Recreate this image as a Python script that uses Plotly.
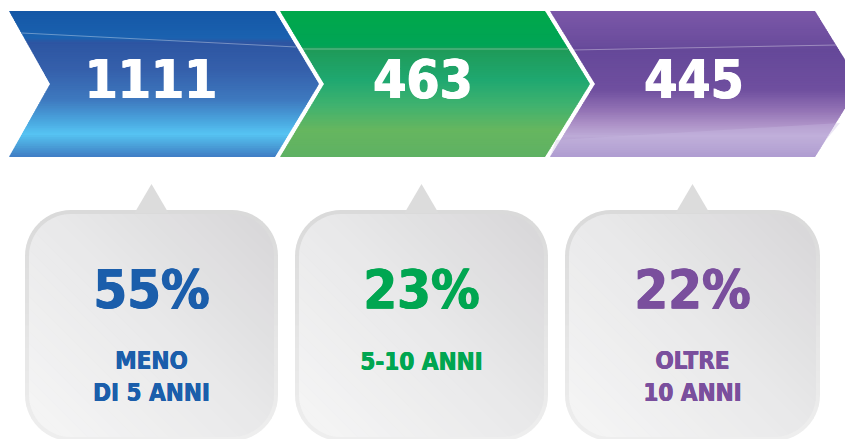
import math
import plotly.graph_objects as go

# ---------------- data ----------------
counts = [1111, 463, 445]
groups = ["MENO<br>DI 5 ANNI", "5-10 ANNI", "OLTRE<br>10 ANNI"]
total = sum(counts)
pcts = [round(100 * c / total) for c in counts]

text_colors = ["#1b5eab", "#00a651", "#7a4f9d"]

# vertical gradient stops for the three arrows (y pixel, colour)
blue_stops = [(11, "#1457a6"), (38, "#1b62b0"), (42, "#2d55a2"), (70, "#3560ab"),
              (100, "#3e79bf"), (122, "#4aa8e0"), (134, "#56c4f3"), (146, "#4a9fd8"),
              (157, "#3f7cc4")]
green_stops = [(11, "#00a84a"), (46, "#00a456"), (49, "#1f9a58"), (80, "#1fa870"),
               (105, "#3fb26f"), (130, "#66b65f"), (157, "#5eb163")]
purple_stops = [(11, "#7b57a8"), (45, "#6a4c9c"), (50, "#654899"), (90, "#6f4f9f"),
                (110, "#9272b4"), (125, "#ae93c8"), (136, "#bcaad6"), (157, "#a28dc7")]
arrow_stops = [blue_stops, green_stops, purple_stops]

W, H = 845, 439

# ---------------- geometry helpers ----------------
def hex2rgb(h):
    h = h.lstrip("#")
    return tuple(int(h[i:i + 2], 16) for i in (0, 2, 4))


def interp(stops, v):
    if v <= stops[0][0]:
        return stops[0][1]
    for (p0, c0), (p1, c1) in zip(stops, stops[1:]):
        if v <= p1:
            t = (v - p0) / (p1 - p0) if p1 > p0 else 0
            a, b = hex2rgb(c0), hex2rgb(c1)
            r = [round(a[i] + (b[i] - a[i]) * t) for i in range(3)]
            return "rgb(%d,%d,%d)" % tuple(r)
    return stops[-1][1]


def clip_half(poly, a, b, c):
    """keep part of convex polygon where a*x + b*y <= c"""
    out = []
    n = len(poly)
    for i in range(n):
        p, q = poly[i], poly[(i + 1) % n]
        fp = a * p[0] + b * p[1] - c
        fq = a * q[0] + b * q[1] - c
        if fp <= 0:
            out.append(p)
        if (fp < 0 < fq) or (fq < 0 < fp):
            t = fp / (fp - fq)
            out.append((p[0] + (q[0] - p[0]) * t, p[1] + (q[1] - p[1]) * t))
    return out


def to_path(poly):
    return "M " + " L ".join("%.2f,%.2f" % (x, y) for x, y in poly) + " Z"


def rounded_rect(x0, y0, x1, y1, r, n=14):
    pts = []
    corners = [(x1 - r, y0 + r, -90, 0), (x1 - r, y1 - r, 0, 90),
               (x0 + r, y1 - r, 90, 180), (x0 + r, y0 + r, 180, 270)]
    for cx, cy, a0, a1 in corners:
        for k in range(n + 1):
            a = math.radians(a0 + (a1 - a0) * k / n)
            pts.append((cx + r * math.cos(a), cy + r * math.sin(a)))
    return pts


shapes = []


def banded(poly, a, b, lo, hi, stops, nb):
    """fill convex poly with bands along a*x+b*y from lo to hi"""
    step = (hi - lo) / nb
    for k in range(nb):
        t0 = lo + k * step
        t1 = t0 + step + 0.8
        piece = clip_half(poly, a, b, t1)
        piece = clip_half(piece, -a, -b, -t0)
        if len(piece) < 3:
            continue
        col = interp(stops, t0 + step / 2)
        shapes.append(dict(type="path", path=to_path(piece), fillcolor=col,
                           line=dict(width=0), layer="below", xref="x", yref="y"))


# ---------------- arrows ----------------
top, bot, mid = 11, 157, 84
arrows = [(9, 275, 41, 44), (280, 545, 44, 45), (550, 815, 45, 45)]
for (xl, xr, notch, tip), stops in zip(arrows, arrow_stops):
    upper = [(xl, top), (xr, top), (xr + tip, mid), (xl + notch, mid)]
    lower = [(xl + notch, mid), (xr + tip, mid), (xr, bot), (xl, bot)]
    banded(upper, 0, 1, top, mid, stops, 40)
    banded(lower, 0, 1, mid, bot, stops, 40)

# faint light seams across the arrows
for (x0, y0, x1, y1) in [(22, 33, 296, 47), (302, 49, 568, 49), (572, 50, 836, 45)]:
    shapes.append(dict(type="line", x0=x0, y0=y0, x1=x1, y1=y1, layer="below",
                       line=dict(color="rgba(255,255,255,0.35)", width=1),
                       xref="x", yref="y"))
# lighter lower band in the purple arrow
shapes.append(dict(type="path",
                   path=to_path([(556, 140), (840, 123), (826, 140), (815, 157), (550, 157)]),
                   fillcolor="rgba(200,185,225,0.35)", line=dict(width=0),
                   layer="below", xref="x", yref="y"))

# ---------------- boxes ----------------
box_x = [(25, 278), (295, 548), (565, 820)]
box_top, box_bot, rad = 210, 441, 46
box_stops = [(0, "#f6f6f6"), (0.5, "#e9e9ea"), (1, "#d7d6d8")]
border_stops = [(box_top, "#d9d9d9"), (box_bot, "#efefef")]
for x0, x1 in box_x:
    cx = (x0 + x1) / 2
    outer = rounded_rect(x0, box_top, x1, box_bot, rad)
    banded(outer, 0, 1, box_top, box_bot, border_stops, 20)
    shapes.append(dict(type="path",
                       path=to_path([(cx, 184), (cx + 17, 213), (cx - 17, 213)]),
                       fillcolor="#dcdcdc", line=dict(width=0), layer="below",
                       xref="x", yref="y"))
    inner = rounded_rect(x0 + 4, box_top + 4, x1 - 4, box_bot - 4, rad - 4)
    lo = (x0 + 4) - (box_bot - 4)
    hi = (x1 - 4) - (box_top + 4)
    norm = [(lo + p * (hi - lo), c) for p, c in box_stops]
    banded(inner, 1, -1, lo, hi, norm, 40)

# ---------------- text ----------------
centers = [(x0 + x1) / 2 for x0, x1 in box_x]
arrow_centers = [151, 423, 694]
heavy = "DejaVu Sans Condensed, DejaVu Sans"

fig = go.Figure()
for dx in (-0.7, 0.7, 0):
    fig.add_trace(go.Scatter(
        x=[c + dx for c in arrow_centers], y=[85] * 3, mode="text",
        text=["<b>%d</b>" % c for c in counts],
        textfont=dict(family=heavy, size=53, color="white"),
        textposition="middle center", hoverinfo="skip"))
    fig.add_trace(go.Scatter(
        x=[c + dx for c in centers], y=[294] * 3, mode="text",
        text=["<b>%d%%</b>" % p for p in pcts],
        textfont=dict(family=heavy, size=54, color=text_colors),
        textposition="middle center", hoverinfo="skip"))
    fig.add_trace(go.Scatter(
        x=[c + dx * 0.5 for c in centers],
        y=[364 + 15 * g.count("<br>") for g in groups], mode="text",
        text=["<b>%s</b>" % g for g in groups],
        textfont=dict(family=heavy, size=24, color=text_colors),
        textposition="middle center", hoverinfo="skip"))

fig.update_layout(
    width=W, height=H, margin=dict(l=0, r=0, t=0, b=0),
    paper_bgcolor="white", plot_bgcolor="white", showlegend=False,
    xaxis=dict(range=[0, W], visible=False, fixedrange=True),
    yaxis=dict(range=[H, 0], visible=False, fixedrange=True),
    shapes=shapes,
)
fig.write_html("out.html", config={"displayModeBar": False},
               post_script="document.body.style.margin='0';"
                           "document.body.style.overflow='hidden';")
